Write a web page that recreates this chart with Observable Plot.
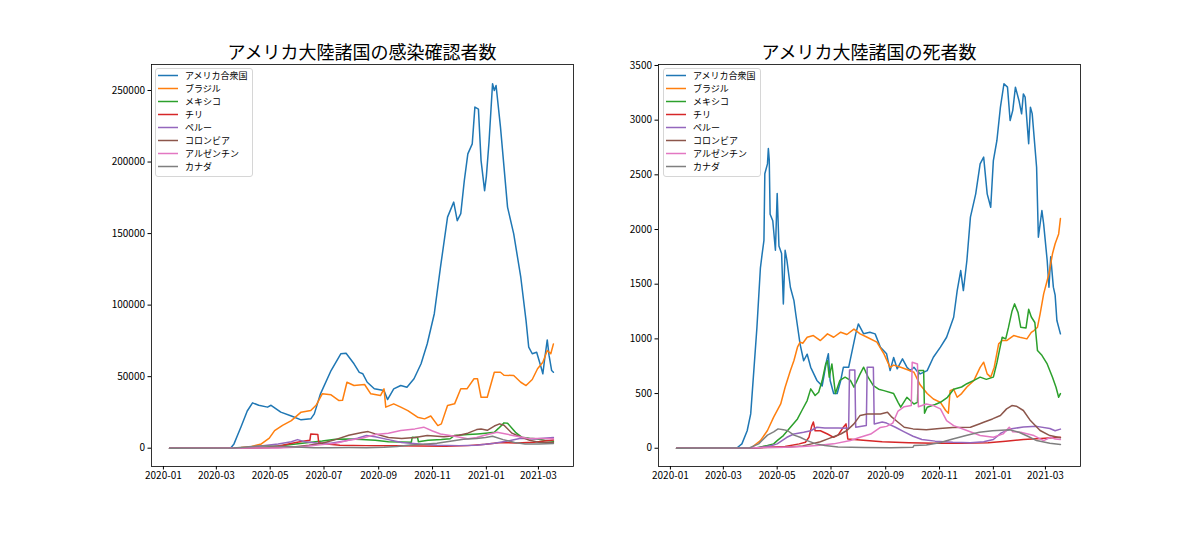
<!DOCTYPE html>
<html>
<head>
<meta charset="utf-8">
<script src="https://cdn.jsdelivr.net/npm/d3@7"></script>
<script src="https://cdn.jsdelivr.net/npm/@observablehq/plot@0.6"></script>
<style>
  html, body { margin: 0; padding: 0; background: #fff; }
  #wrap { position: relative; width: 1200px; height: 533px; font-family: "Noto Sans CJK JP", sans-serif; }
  .panel { position: absolute; top: 0; }
  .title { position: absolute; top: 39px; height: 24px; line-height: 24px; font-size: 18px; color: #000; text-align: center; white-space: nowrap; }
  .legend { position: absolute; box-sizing: border-box; border: 1px solid #d6d6d6; border-radius: 3px; background: rgba(255,255,255,0.8); }
  .legend svg { position: absolute; left: 0; top: 0; }
  .legend .tx { position: absolute; font-size: 9px; line-height: 12px; height: 12px; color: #000; white-space: nowrap; }
</style>
</head>
<body>
<div id="wrap"></div>
<script>
// ---------- categories, colours, ticks ----------
const countries = ["アメリカ合衆国","ブラジル","メキシコ","チリ","ペルー","コロンビア","アルゼンチン","カナダ"];
const colors = ["#1f77b4","#ff7f0e","#2ca02c","#d62728","#9467bd","#8c564b","#e377c2","#7f7f7f"];
const titles = ["アメリカ大陸諸国の感染確認者数","アメリカ大陸諸国の死者数"];
const xTickDates = ["2020-01-01","2020-03-01","2020-05-01","2020-07-01","2020-09-01","2020-11-01","2021-01-01","2021-03-01"];
const casesTicks = [0,50000,100000,150000,200000,250000];
const deathsTicks = [0,500,1000,1500,2000,2500,3000,3500];

// ---------- daily new cases ----------
const usCases = [["2020-01-08",0],["2020-03-17",0],["2020-03-21",3000],["2020-03-25",9000],["2020-03-29",15000],["2020-04-05",26000],["2020-04-11",31700],["2020-04-18",30000],["2020-04-28",28700],["2020-05-02",30000],["2020-05-13",25200],["2020-05-25",22500],["2020-06-05",19800],["2020-06-16",20500],["2020-06-20",24000],["2020-06-27",38000],["2020-07-09",54300],["2020-07-20",66000],["2020-07-26",66400],["2020-08-04",59000],["2020-08-10",53000],["2020-08-14",52000],["2020-08-19",46100],["2020-08-27",41500],["2020-09-07",40300],["2020-09-11",34000],["2020-09-18",41500],["2020-09-26",43800],["2020-10-03",42600],["2020-10-11",48500],["2020-10-19",59000],["2020-10-26",73000],["2020-11-03",94000],["2020-11-10",126500],["2020-11-18",161500],["2020-11-25",172000],["2020-11-29",159000],["2020-12-03",164000],["2020-12-07",187000],["2020-12-11",205700],["2020-12-16",212700],["2020-12-19",238400],["2020-12-23",237000],["2020-12-26",201000],["2020-12-30",180000],["2021-01-01",190000],["2021-01-04",214000],["2021-01-08",254700],["2021-01-10",250000],["2021-01-12",253500],["2021-01-17",224400],["2021-01-25",168500],["2021-02-01",149800],["2021-02-09",119500],["2021-02-15",89000],["2021-02-18",70600],["2021-02-22",66000],["2021-02-27",67000],["2021-03-04",56600],["2021-03-06",52000],["2021-03-08",62000],["2021-03-11",75700],["2021-03-13",65000],["2021-03-16",54300],["2021-03-18",53100]];
const brazilCases = [["2020-01-08",0],["2020-03-29",500],["2020-04-10",1200],["2020-04-21",3000],["2020-04-30",7000],["2020-05-06",12300],["2020-05-15",16000],["2020-05-25",19300],["2020-06-05",25200],["2020-06-16",26300],["2020-06-22",30000],["2020-06-29",38000],["2020-07-09",37300],["2020-07-18",33300],["2020-07-22",33500],["2020-07-27",46100],["2020-08-04",43800],["2020-08-16",44500],["2020-08-23",38000],["2020-09-03",36800],["2020-09-07",41500],["2020-09-09",28700],["2020-09-18",31000],["2020-09-26",28700],["2020-10-04",26300],["2020-10-15",21700],["2020-10-23",20500],["2020-10-30",22500],["2020-11-07",15800],["2020-11-11",17000],["2020-11-18",29800],["2020-11-26",31000],["2020-12-03",41500],["2020-12-10",41500],["2020-12-18",48500],["2020-12-22",48500],["2020-12-26",35600],["2021-01-02",35600],["2021-01-10",53100],["2021-01-17",53100],["2021-01-21",51000],["2021-02-01",50800],["2021-02-09",46100],["2021-02-15",43800],["2021-02-22",48000],["2021-02-28",55500],["2021-03-06",60100],["2021-03-11",68300],["2021-03-15",66000],["2021-03-18",72900]];
const mexicoCases = [["2020-01-08",0],["2020-03-31",50],["2020-04-20",500],["2020-05-10",1500],["2020-05-30",3000],["2020-06-14",4000],["2020-06-29",5000],["2020-07-14",6300],["2020-07-29",6500],["2020-08-13",6000],["2020-08-28",5500],["2020-09-12",4500],["2020-09-27",4300],["2020-10-08",4200],["2020-10-09",7700],["2020-10-15",7500],["2020-10-16",4500],["2020-10-27",5500],["2020-11-11",6000],["2020-11-21",6600],["2020-11-26",8900],["2020-12-11",9500],["2020-12-22",10000],["2020-12-31",10500],["2021-01-10",11100],["2021-01-15",14000],["2021-01-21",17700],["2021-01-25",17500],["2021-01-30",14000],["2021-02-03",11100],["2021-02-10",7700],["2021-02-19",7000],["2021-02-26",6600],["2021-03-08",5500],["2021-03-18",4800]];
const chileCases = [["2020-01-08",0],["2020-03-21",50],["2020-04-10",350],["2020-04-30",500],["2020-05-15",2000],["2020-05-30",4000],["2020-06-09",5000],["2020-06-15",5500],["2020-06-16",10000],["2020-06-24",9600],["2020-06-25",4000],["2020-07-04",3000],["2020-07-19",2000],["2020-08-18",1800],["2020-09-17",1700],["2020-10-17",1500],["2020-11-16",1400],["2020-12-11",1800],["2020-12-31",2800],["2021-01-15",3800],["2021-02-04",3700],["2021-02-24",4200],["2021-03-18",5800]];
const peruCases = [["2020-01-08",0],["2020-03-31",50],["2020-04-20",1500],["2020-05-10",3000],["2020-05-25",4500],["2020-06-01",6000],["2020-06-09",4500],["2020-06-24",3500],["2020-07-09",3500],["2020-07-24",5000],["2020-08-08",7000],["2020-08-18",8900],["2020-08-28",8000],["2020-09-12",6000],["2020-09-27",4000],["2020-10-17",3000],["2020-11-06",2000],["2020-12-01",1800],["2020-12-21",2000],["2021-01-10",3500],["2021-01-25",5000],["2021-02-09",7000],["2021-02-24",6500],["2021-03-18",7500]];
const colombiaCases = [["2020-01-08",0],["2020-04-10",100],["2020-05-10",500],["2020-05-30",1000],["2020-06-14",2000],["2020-06-29",3500],["2020-07-14",6000],["2020-07-29",9000],["2020-08-13",11000],["2020-08-20",11600],["2020-08-28",10000],["2020-09-12",7500],["2020-09-27",6800],["2020-10-12",7500],["2020-10-26",8900],["2020-11-14",8000],["2020-12-01",9000],["2020-12-11",10500],["2020-12-21",13000],["2020-12-26",13400],["2021-01-02",12500],["2021-01-10",15500],["2021-01-16",17000],["2021-01-21",16000],["2021-01-30",10500],["2021-02-05",8900],["2021-02-19",5500],["2021-03-01",4200],["2021-03-18",4000]];
const argentinaCases = [["2020-01-08",0],["2020-04-10",100],["2020-05-10",200],["2020-05-30",600],["2020-06-14",1500],["2020-06-29",2500],["2020-07-14",3500],["2020-07-29",5500],["2020-08-13",7000],["2020-08-28",9500],["2020-09-12",10500],["2020-09-26",12400],["2020-10-12",13500],["2020-10-22",14700],["2020-11-01",12000],["2020-11-10",9950],["2020-11-21",8900],["2020-12-11",6600],["2020-12-21",7500],["2020-12-29",8900],["2021-01-13",11100],["2021-01-28",9300],["2021-02-16",7000],["2021-03-18",6600]];
const canadaCases = [["2020-01-08",0],["2020-03-21",100],["2020-04-10",1200],["2020-04-25",1700],["2020-05-10",1300],["2020-05-30",800],["2020-06-19",400],["2020-07-09",300],["2020-07-29",450],["2020-08-18",400],["2020-09-07",700],["2020-09-22",1200],["2020-10-07",2200],["2020-10-22",2700],["2020-11-06",3500],["2020-11-21",4800],["2020-12-06",6200],["2020-12-21",6800],["2020-12-31",7500],["2021-01-08",8300],["2021-01-20",6000],["2021-02-02",4000],["2021-02-14",3000],["2021-03-01",2900],["2021-03-18",3300]];

// ---------- daily deaths ----------
const usDeaths = [["2020-01-08",0],["2020-03-16",0],["2020-03-22",40],["2020-03-28",160],["2020-04-01",314],["2020-04-04",650],["2020-04-08",1100],["2020-04-12",1650],["2020-04-14",1780],["2020-04-16",1900],["2020-04-17",2510],["2020-04-20",2600],["2020-04-21",2740],["2020-04-22",2640],["2020-04-23",2140],["2020-04-26",2080],["2020-04-29",1810],["2020-05-01",2330],["2020-05-03",1850],["2020-05-06",1780],["2020-05-08",1320],["2020-05-10",1810],["2020-05-12",1720],["2020-05-16",1470],["2020-05-20",1350],["2020-05-22",1230],["2020-05-27",950],["2020-05-31",800],["2020-06-04",860],["2020-06-08",740],["2020-06-15",620],["2020-06-21",570],["2020-06-26",800],["2020-06-28",864],["2020-06-30",620],["2020-07-04",500],["2020-07-08",500],["2020-07-12",620],["2020-07-15",740],["2020-07-21",740],["2020-07-25",893],["2020-07-29",1046],["2020-08-01",1137],["2020-08-07",1046],["2020-08-14",1060],["2020-08-20",1046],["2020-08-26",924],["2020-09-02",863],["2020-09-06",710],["2020-09-10",830],["2020-09-14",726],["2020-09-20",817],["2020-09-25",741],["2020-09-29",710],["2020-10-03",741],["2020-10-06",710],["2020-10-10",680],["2020-10-18",710],["2020-10-25",832],["2020-11-02",924],["2020-11-09",1015],["2020-11-17",1198],["2020-11-21",1442],["2020-11-25",1625],["2020-11-28",1442],["2020-12-02",1717],["2020-12-06",2113],["2020-12-12",2326],["2020-12-17",2600],["2020-12-21",2662],["2020-12-25",2326],["2020-12-29",2204],["2021-01-01",2631],["2021-01-05",2814],["2021-01-09",3119],["2021-01-13",3333],["2021-01-17",3302],["2021-01-20",2997],["2021-01-23",3090],["2021-01-26",3302],["2021-01-30",3180],["2021-02-02",3058],["2021-02-04",3240],["2021-02-06",3211],["2021-02-10",2784],["2021-02-12",3119],["2021-02-14",3060],["2021-02-19",2570],["2021-02-21",1930],["2021-02-25",2174],["2021-02-27",2050],["2021-03-03",1717],["2021-03-05",1473],["2021-03-07",1750],["2021-03-10",1473],["2021-03-12",1400],["2021-03-14",1168],["2021-03-18",1046]];
const brazilDeaths = [["2020-01-08",0],["2020-04-01",0],["2020-04-12",70],["2020-04-20",162],["2020-04-27",284],["2020-05-05",405],["2020-05-10",558],["2020-05-16",710],["2020-05-20",802],["2020-05-24",924],["2020-05-27",970],["2020-05-30",960],["2020-06-04",1015],["2020-06-11",1030],["2020-06-19",985],["2020-06-27",1046],["2020-07-04",1015],["2020-07-12",1061],["2020-07-19",1040],["2020-07-27",1090],["2020-08-03",1046],["2020-08-11",1015],["2020-08-22",970],["2020-08-30",863],["2020-09-06",740],["2020-09-10",760],["2020-09-18",741],["2020-09-25",720],["2020-10-03",695],["2020-10-10",580],["2020-10-18",500],["2020-10-25",450],["2020-11-02",420],["2020-11-08",345],["2020-11-11",320],["2020-11-13",527],["2020-11-17",540],["2020-11-21",466],["2020-11-26",500],["2020-12-02",560],["2020-12-10",620],["2020-12-17",740],["2020-12-21",787],["2020-12-25",680],["2020-12-29",650],["2021-01-02",741],["2021-01-07",954],["2021-01-11",985],["2021-01-16",985],["2021-01-24",1030],["2021-01-31",1015],["2021-02-08",1000],["2021-02-13",1060],["2021-02-16",1076],["2021-02-20",1107],["2021-02-23",1229],["2021-02-27",1412],["2021-03-05",1595],["2021-03-09",1778],["2021-03-12",1870],["2021-03-16",1960],["2021-03-18",2100]];
const mexicoDeaths = [["2020-01-08",0],["2020-04-05",0],["2020-04-20",25],["2020-04-27",40],["2020-05-01",70],["2020-05-08",116],["2020-05-16",192],["2020-05-24",268],["2020-05-29",345],["2020-06-04",436],["2020-06-08",543],["2020-06-13",482],["2020-06-17",512],["2020-06-21",619],["2020-06-25",771],["2020-06-27",800],["2020-06-29",650],["2020-07-02",771],["2020-07-06",500],["2020-07-11",620],["2020-07-17",650],["2020-07-23",620],["2020-07-27",558],["2020-08-03",680],["2020-08-07",741],["2020-08-12",650],["2020-08-18",573],["2020-08-24",540],["2020-08-30",527],["2020-09-10",500],["2020-09-15",420],["2020-09-18",375],["2020-09-25",466],["2020-10-03",405],["2020-10-07",420],["2020-10-08",710],["2020-10-14",710],["2020-10-15",320],["2020-10-18",375],["2020-10-27",400],["2020-11-02",420],["2020-11-10",466],["2020-11-17",540],["2020-11-26",560],["2020-12-02",590],["2020-12-10",620],["2020-12-17",650],["2020-12-24",630],["2021-01-01",650],["2021-01-05",780],["2021-01-08",900],["2021-01-11",1015],["2021-01-15",1000],["2021-01-18",1100],["2021-01-22",1250],["2021-01-25",1320],["2021-01-29",1240],["2021-02-01",1107],["2021-02-07",1100],["2021-02-10",1270],["2021-02-13",1200],["2021-02-17",1150],["2021-02-20",893],["2021-02-25",850],["2021-03-03",771],["2021-03-09",650],["2021-03-13",558],["2021-03-16",466],["2021-03-18",500]];
const chileDeaths = [["2020-01-08",0],["2020-04-10",5],["2020-05-10",15],["2020-05-26",40],["2020-06-02",55],["2020-06-06",100],["2020-06-09",200],["2020-06-11",240],["2020-06-13",160],["2020-06-19",160],["2020-06-27",130],["2020-07-04",100],["2020-07-09",120],["2020-07-15",192],["2020-07-18",223],["2020-07-20",85],["2020-08-03",75],["2020-08-28",60],["2020-09-27",50],["2020-10-27",45],["2020-11-26",45],["2020-12-26",50],["2021-01-15",65],["2021-02-04",80],["2021-02-24",90],["2021-03-18",100]];
const peruDeaths = [["2020-01-08",0],["2020-04-10",5],["2020-04-25",25],["2020-05-01",40],["2020-05-12",100],["2020-05-20",130],["2020-05-31",146],["2020-06-08",160],["2020-06-15",192],["2020-06-24",186],["2020-07-09",185],["2020-07-21",183],["2020-07-22",716],["2020-07-28",716],["2020-07-29",192],["2020-08-10",207],["2020-08-11",741],["2020-08-18",741],["2020-08-19",222],["2020-08-28",240],["2020-09-02",230],["2020-09-12",192],["2020-09-22",150],["2020-10-02",110],["2020-10-12",80],["2020-10-27",65],["2020-11-16",55],["2020-12-06",50],["2020-12-21",60],["2021-01-01",80],["2021-01-10",140],["2021-01-20",175],["2021-02-04",195],["2021-02-19",200],["2021-03-06",180],["2021-03-12",160],["2021-03-18",175]];
const colombiaDeaths = [["2020-01-08",0],["2020-04-10",5],["2020-05-10",10],["2020-05-30",20],["2020-06-09",40],["2020-06-19",60],["2020-06-29",90],["2020-07-12",130],["2020-07-19",162],["2020-07-27",223],["2020-08-03",300],["2020-08-11",314],["2020-08-26",314],["2020-09-03",329],["2020-09-08",284],["2020-09-15",238],["2020-09-22",192],["2020-10-02",177],["2020-10-17",170],["2020-11-01",180],["2020-11-16",190],["2020-12-06",192],["2020-12-16",222],["2020-12-21",238],["2020-12-31",268],["2021-01-09",299],["2021-01-16",360],["2021-01-22",390],["2021-01-27",385],["2021-02-04",345],["2021-02-12",253],["2021-02-23",162],["2021-03-06",116],["2021-03-18",95]];
const argentinaDeaths = [["2020-01-08",0],["2020-04-10",5],["2020-05-10",10],["2020-05-30",15],["2020-06-15",25],["2020-07-04",40],["2020-07-23",70],["2020-08-03",100],["2020-08-15",130],["2020-08-26",190],["2020-09-02",200],["2020-09-09",230],["2020-09-15",340],["2020-09-22",380],["2020-09-30",390],["2020-10-01",787],["2020-10-07",770],["2020-10-08",380],["2020-10-17",405],["2020-10-25",390],["2020-11-02",360],["2020-11-09",253],["2020-11-17",207],["2020-12-02",162],["2020-12-17",116],["2021-01-01",100],["2021-01-12",131],["2021-01-19",192],["2021-01-23",150],["2021-02-01",146],["2021-02-16",116],["2021-02-27",70],["2021-03-07",100],["2021-03-12",85],["2021-03-18",80]];
const canadaDeaths = [["2020-01-08",0],["2020-03-31",5],["2020-04-10",40],["2020-04-20",120],["2020-04-27",150],["2020-05-02",177],["2020-05-08",170],["2020-05-13",160],["2020-05-20",120],["2020-05-27",100],["2020-06-04",70],["2020-06-14",40],["2020-06-24",25],["2020-07-09",12],["2020-08-08",6],["2020-09-07",5],["2020-10-02",10],["2020-10-03",25],["2020-10-17",30],["2020-11-01",50],["2020-11-16",85],["2020-12-01",116],["2020-12-16",146],["2020-12-31",160],["2021-01-20",168],["2021-01-30",146],["2021-02-09",110],["2021-02-19",70],["2021-03-06",46],["2021-03-18",35]];

const casesSeries = [usCases, brazilCases, mexicoCases, chileCases, peruCases, colombiaCases, argentinaCases, canadaCases];
const deathsSeries = [usDeaths, brazilDeaths, mexicoDeaths, chileDeaths, peruDeaths, colombiaDeaths, argentinaDeaths, canadaDeaths];

// ---------- drawing ----------
const parse = d3.utcParse("%Y-%m-%d");
const xDomain = [new Date(Date.UTC(2019, 11, 18, 12)), new Date(Date.UTC(2021, 3, 9, 18))];
const wrap = document.getElementById("wrap");
const SVGNS = "http://www.w3.org/2000/svg";

function makePanel(seriesList, yDomain, yTicks, mLeft, mRight, offsetX, title, legendLeft) {
  const marks = [];
  seriesList.forEach((s, i) => {
    const rows = s.map(([d, v]) => ({date: parse(d), value: v, country: countries[i]}));
    marks.push(Plot.line(rows, {x: "date", y: "value", stroke: colors[i], strokeWidth: 1.5, curve: "linear"}));
  });
  marks.push(Plot.frame({stroke: "#000", strokeWidth: 0.8}));
  const chart = Plot.plot({
    width: 600, height: 533,
    marginLeft: mLeft, marginRight: mRight, marginTop: 64, marginBottom: 67,
    style: {fontFamily: "'Noto Sans CJK JP', sans-serif", fontSize: "10px", color: "#000", background: "transparent", overflow: "visible"},
    x: {type: "utc", domain: xDomain, ticks: xTickDates.map(parse), tickFormat: d3.utcFormat("%Y-%m"), tickSize: 3.5, tickPadding: 2, label: null},
    y: {domain: yDomain, ticks: yTicks, tickFormat: "d", tickSize: 3.5, tickPadding: 3, label: null},
    marks
  });
  const holder = document.createElement("div");
  holder.className = "panel";
  holder.style.left = offsetX + "px";
  holder.appendChild(chart);
  wrap.appendChild(holder);

  const frameCenter = offsetX + mLeft + (600 - mLeft - mRight) / 2;
  const t = document.createElement("div");
  t.className = "title";
  t.textContent = title;
  t.style.left = (frameCenter - 200) + "px";
  t.style.width = "400px";
  wrap.appendChild(t);

  const lg = document.createElement("div");
  lg.className = "legend";
  lg.style.left = legendLeft + "px";
  lg.style.top = "68px";
  lg.style.width = "98px";
  lg.style.height = "109px";
  const svg = document.createElementNS(SVGNS, "svg");
  svg.setAttribute("width", "96");
  svg.setAttribute("height", "107");
  countries.forEach((c, i) => {
    const cy = 6.5 + 13 * i;
    const ln = document.createElementNS(SVGNS, "line");
    ln.setAttribute("x1", "2");
    ln.setAttribute("x2", "22");
    ln.setAttribute("y1", cy);
    ln.setAttribute("y2", cy);
    ln.setAttribute("stroke", colors[i]);
    ln.setAttribute("stroke-width", "1.5");
    svg.appendChild(ln);
    const tx = document.createElement("div");
    tx.className = "tx";
    tx.style.left = "29px";
    tx.style.top = (cy - 6) + "px";
    tx.textContent = c;
    lg.appendChild(tx);
  });
  lg.appendChild(svg);
  wrap.appendChild(lg);
}

makePanel(casesSeries, [-12790, 268170], casesTicks, 151, 27, 0, titles[0], 155);
makePanel(deathsSeries, [-167, 3509], deathsTicks, 58, 120, 600, titles[1], 663);
</script>
</body>
</html>
